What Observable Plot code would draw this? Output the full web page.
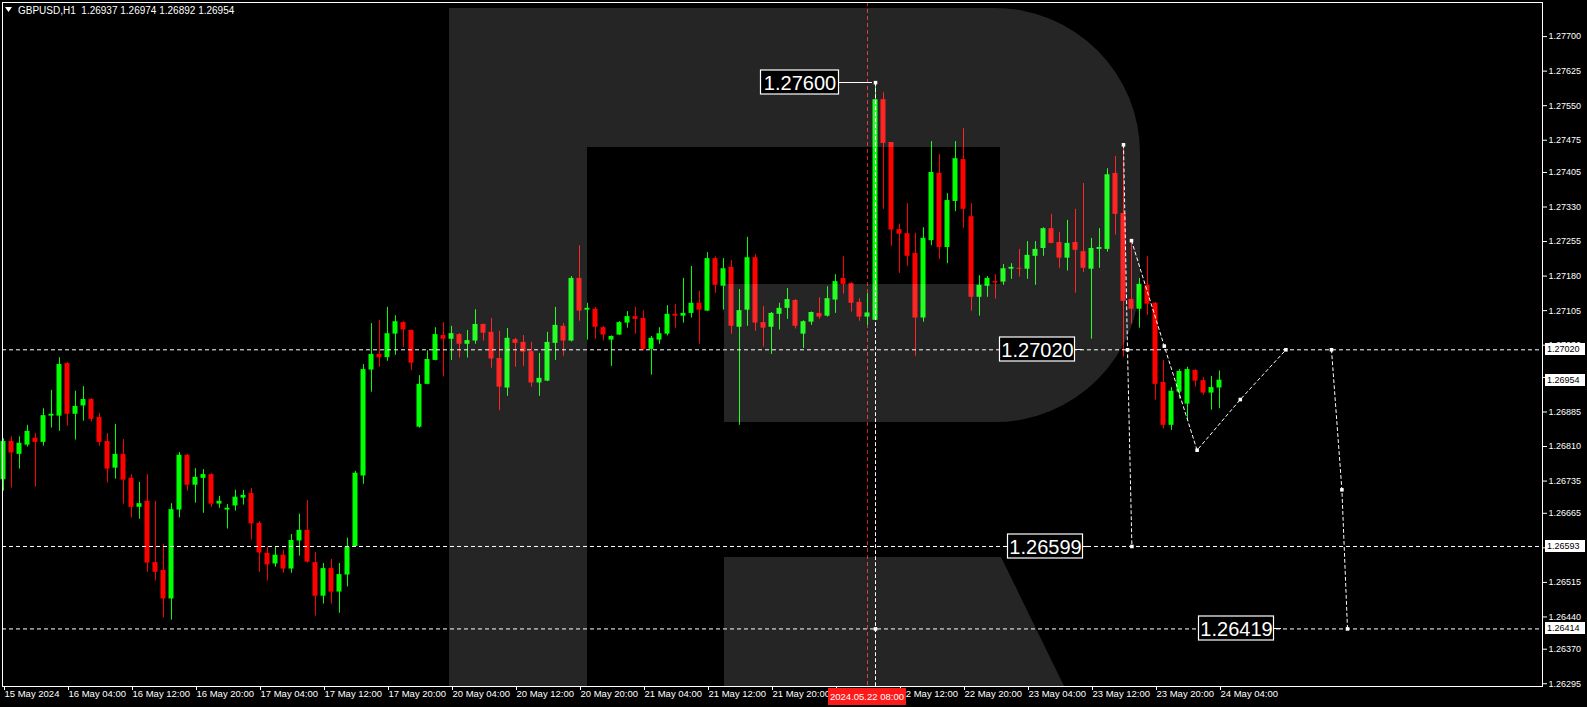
<!DOCTYPE html>
<html><head><meta charset="utf-8">
<script src="https://cdn.jsdelivr.net/npm/d3@7"></script>
<script src="https://cdn.jsdelivr.net/npm/@observablehq/plot@0.6"></script>
<style>
html,body{margin:0;padding:0;background:#000;overflow:hidden}
#chart{position:relative;width:1587px;height:707px}
svg text{white-space:pre}
</style></head><body><div id="chart"></div>
<script>
// ---- Data: hourly GBPUSD candles, bar 0 = 15 May 20:00, last bar = 24 May 04:00
const opens = [1.26738,1.26821,1.26793,1.26813,1.26828,1.26819,1.26876,1.26876,1.26990,1.26880,
1.26898,1.26912,1.26873,1.26821,1.26763,1.26793,1.26741,1.26678,1.26691,1.26558,
1.26541,1.26479,1.26672,1.26791,1.26726,1.26741,1.26749,1.26685,1.26672,1.26681,
1.26698,1.26708,1.26643,1.26578,1.26555,1.26574,1.26544,1.26605,1.26628,1.26558,
1.26485,1.26545,1.26494,1.26531,1.26593,1.26746,1.26976,1.27010,1.27003,1.27054,
1.27079,1.27062,1.26852,1.26945,1.26997,1.27051,1.27043,1.27053,1.27032,1.27039,
1.27075,1.27058,1.27001,1.26937,1.27042,1.27036,1.27016,1.26948,1.26952,1.27034,
1.27071,1.27039,1.27175,1.27106,1.27108,1.27068,1.27041,1.27052,1.27078,1.27092,
1.27088,1.27021,1.27041,1.27054,1.27097,1.27093,1.27099,1.27121,1.27104,1.27218,
1.27158,1.27199,1.27069,1.27106,1.27220,1.27079,1.27069,1.27097,1.27110,1.27127,
1.27054,1.27080,1.27099,1.27093,1.27128,1.27175,1.27164,1.27123,1.27091,1.27084,
1.27563,1.27470,1.27281,1.27272,1.27229,1.27089,1.27257,1.27403,1.27242,1.27342,
1.27433,1.27309,1.27134,1.27158,1.27168,1.27167,1.27195,1.27197,1.27195,1.27223,
1.27240,1.27283,1.27253,1.27219,1.27253,1.27233,1.27195,1.27238,1.27238,1.27403,
1.27316,1.27129,1.27108,1.27160,1.27121,1.26949,1.26856,1.26928,1.26902,1.26975,
1.26953,1.26926,1.26937];
const highs = [1.26827,1.26831,1.26831,1.26856,1.26838,1.26892,1.26932,1.27003,1.26992,1.26930,
1.26940,1.26914,1.26882,1.26838,1.26858,1.26825,1.26749,1.26732,1.26749,1.26691,
1.26598,1.26686,1.26797,1.26793,1.26762,1.26760,1.26751,1.26702,1.26684,1.26715,
1.26715,1.26719,1.26647,1.26592,1.26592,1.26585,1.26619,1.26663,1.26693,1.26580,
1.26556,1.26565,1.26556,1.26611,1.26756,1.26988,1.27077,1.27084,1.27112,1.27094,
1.27081,1.27063,1.26964,1.27018,1.27068,1.27079,1.27071,1.27055,1.27062,1.27107,
1.27076,1.27088,1.27060,1.27066,1.27045,1.27051,1.27036,1.27012,1.27058,1.27112,
1.27077,1.27179,1.27246,1.27121,1.27112,1.27071,1.27050,1.27081,1.27103,1.27112,
1.27105,1.27049,1.27068,1.27116,1.27118,1.27175,1.27201,1.27147,1.27231,1.27222,
1.27218,1.27214,1.27151,1.27264,1.27227,1.27114,1.27101,1.27121,1.27153,1.27129,
1.27083,1.27102,1.27133,1.27157,1.27183,1.27222,1.27166,1.27131,1.27142,1.27600,
1.27578,1.27470,1.27293,1.27337,1.27273,1.27285,1.27472,1.27444,1.27359,1.27472,
1.27500,1.27337,1.27181,1.27179,1.27183,1.27205,1.27207,1.27238,1.27255,1.27255,
1.27285,1.27314,1.27275,1.27301,1.27325,1.27381,1.27262,1.27283,1.27413,1.27440,
1.27465,1.27257,1.27175,1.27222,1.27123,1.26997,1.26938,1.26977,1.26982,1.26977,
1.26960,1.26962,1.26974];
const lows = [1.26713,1.26720,1.26761,1.26809,1.26722,1.26811,1.26850,1.26843,1.26854,1.26824,
1.26865,1.26863,1.26811,1.26731,1.26739,1.26685,1.26655,1.26652,1.26537,1.26518,
1.26438,1.26433,1.26655,1.26713,1.26687,1.26665,1.26678,1.26676,1.26631,1.26670,
1.26683,1.26607,1.26537,1.26518,1.26548,1.26535,1.26535,1.26572,1.26557,1.26442,
1.26468,1.26468,1.26448,1.26505,1.26592,1.26728,1.26928,1.26982,1.26995,1.27008,
1.27025,1.26975,1.26850,1.26944,1.26996,1.26961,1.26997,1.27002,1.27002,1.27032,
1.27039,1.26980,1.26888,1.26919,1.26982,1.26984,1.26939,1.26919,1.26951,1.26997,
1.27006,1.27037,1.27082,1.27041,1.27043,1.27039,1.26984,1.27051,1.27067,1.27054,
1.27017,1.26965,1.27032,1.27050,1.27067,1.27078,1.27089,1.27032,1.27103,1.27143,
1.27106,1.27054,1.26856,1.27071,1.27060,1.27026,1.27010,1.27063,1.27086,1.27065,
1.27023,1.27073,1.27086,1.27091,1.27099,1.27141,1.27102,1.27082,1.27073,1.27084,
1.27325,1.27245,1.27186,1.27201,1.27006,1.27080,1.27246,1.27216,1.27207,1.27320,
1.27284,1.27104,1.27093,1.27134,1.27130,1.27160,1.27173,1.27178,1.27173,1.27160,
1.27223,1.27250,1.27197,1.27191,1.27143,1.27188,1.27043,1.27197,1.27232,1.27269,
1.27004,1.27076,1.27067,1.27095,1.26911,1.26848,1.26845,1.26913,1.26865,1.26939,
1.26921,1.26889,1.26892];
const closes = [1.26821,1.26796,1.26817,1.26843,1.26819,1.26877,1.26880,1.26988,1.26880,1.26897,
1.26912,1.26869,1.26819,1.26761,1.26793,1.26737,1.26678,1.26686,1.26557,1.26537,
1.26479,1.26673,1.26791,1.26726,1.26743,1.26749,1.26685,1.26691,1.26676,1.26700,
1.26704,1.26642,1.26579,1.26553,1.26574,1.26544,1.26606,1.26628,1.26559,1.26485,
1.26545,1.26494,1.26532,1.26591,1.26752,1.26977,1.27010,1.27003,1.27055,1.27081,
1.27063,1.26991,1.26945,1.26999,1.27053,1.27043,1.27055,1.27032,1.27040,1.27075,
1.27056,1.27000,1.26939,1.27045,1.27034,1.27015,1.26948,1.26958,1.27036,1.27073,
1.27039,1.27175,1.27104,1.27110,1.27069,1.27052,1.27049,1.27079,1.27092,1.27086,
1.27021,1.27045,1.27055,1.27097,1.27093,1.27099,1.27121,1.27106,1.27218,1.27160,
1.27196,1.27071,1.27105,1.27220,1.27078,1.27067,1.27099,1.27110,1.27129,1.27071,
1.27081,1.27101,1.27091,1.27131,1.27168,1.27162,1.27121,1.27091,1.27100,1.27563,
1.27468,1.27280,1.27271,1.27223,1.27089,1.27262,1.27405,1.27242,1.27344,1.27435,
1.27325,1.27134,1.27160,1.27175,1.27165,1.27196,1.27199,1.27195,1.27225,1.27238,
1.27283,1.27251,1.27219,1.27251,1.27236,1.27197,1.27240,1.27242,1.27400,1.27314,
1.27125,1.27108,1.27162,1.27119,1.26945,1.26856,1.26930,1.26973,1.26977,1.26952,
1.26926,1.26938,1.26954];

// time axis
const xTickBars = [0,8,16,24,32,40,48,56,64,72,80,88,96,104,112,120,128,136,144,152];
const xTickLabels = ["15 May 2024","16 May 04:00","16 May 12:00","16 May 20:00","17 May 04:00","17 May 12:00",
  "17 May 20:00","20 May 04:00","20 May 12:00","20 May 20:00","21 May 04:00","21 May 12:00","21 May 20:00",
  "22 May 04:00","22 May 12:00","22 May 20:00","23 May 04:00","23 May 12:00","23 May 20:00","24 May 04:00"];
const cursorBar = 108;
const cursorLabel = "2024.05.22 08:00";

// price axis
const yTicks = [1.27700,1.27625,1.27550,1.27475,1.27405,1.27330,1.27255,1.27180,1.27105,1.27030,
  1.26960,1.26885,1.26810,1.26735,1.26665,1.26590,1.26515,1.26440,1.26370,1.26295];
const priceMarks = [1.27020,1.26954,1.26593,1.26414];

// horizontal levels
const hLevels = [1.27020,1.26593,1.26414];

// forecast paths (bar index / price)
const pathBars = [[109,109],[140,140.5,141.05],[141,145.1,149.2,154.6,160.3],[166,167.3,168]];
const pathPrices = [[1.27600,1.26289],[1.27465,1.27020,1.26593],[1.27257,1.27028,1.26802,1.26912,1.27020],[1.27020,1.26716,1.26414]];
const markerBars = [109,109,140,140.5,141.05,141,145.1,149.2,154.6,160.3,166,167.3,168];
const markerPrices = [1.27600,1.26414,1.27465,1.27020,1.26593,1.27257,1.27028,1.26802,1.26912,1.27020,1.27020,1.26716,1.26414];

// price notes
const noteTexts = ["1.27600","1.27020","1.26599","1.26419"];
const noteBars = [104.5,134.05,135.05,158.9];
const notePrices = [1.27600,1.27020,1.26593,1.26414];
const noteLinkBars = [108.6,134.9,135.9,159.8];

const titleText = "GBPUSD,H1  1.26937 1.26974 1.26892 1.26954";

// ---- build
const bars = opens.map((o,i)=>({i, open:o, high:highs[i], low:lows[i], close:closes[i]}));
const GREEN = "#00ff00", RED = "#ff0000";
const col = d => d.close >= d.open ? GREEN : RED;
const paths = pathBars.flatMap((bs,k)=>bs.map((b,j)=>({k, bar:b, price:pathPrices[k][j]})));
const markers = markerBars.map((b,j)=>({bar:b, price:markerPrices[j]}));
const FONT = "'Liberation Sans', Arial, sans-serif";

function logoMark() {
  const g = d3.create("svg:g");
  g.append("path")
    .attr("d","M449,8H587V686H449Z M587,8H995A145,145 0 0 1 1140,153V277A145,145 0 0 1 995,422H724V284H1000V147H587Z M724,557H1001L1064,686H724Z")
    .attr("fill","#fff").attr("fill-opacity",0.145);
  return g.node();
}
function notesMark(index, scales) {
  const x = scales.x, y = scales.y;
  const g = d3.create("svg:g").attr("text-anchor","middle");
  noteTexts.forEach((t,k)=>{
    const xr = Math.round(x(noteBars[k])), yc = Math.round(y(notePrices[k]));
    const xl = Math.round(x(noteLinkBars[k]));
    const w = k === 0 ? 78 : 75;
    g.append("line").attr("x1",xr).attr("x2",xl).attr("y1",yc+0.5).attr("y2",yc+0.5).attr("stroke","#fff");
    g.append("rect").attr("x",xr-w-0.5).attr("y",yc-12).attr("width",w).attr("height",24)
      .attr("fill","#000").attr("stroke","#fff").attr("stroke-width",1.2);
    g.append("text").attr("x",xr-w/2).attr("y",yc+1).attr("text-anchor","middle").attr("dy","0.36em")
      .attr("font-family",FONT).attr("font-size",20).attr("fill","#fff").text(t);
  });
  return g.node();
}
function sideMarks(index, scales) {
  const x = scales.x, y = scales.y;
  const g = d3.create("svg:g").attr("text-anchor","start");
  priceMarks.forEach(p=>{
    const yc = Math.round(y(p));
    g.append("rect").attr("x",1545).attr("y",yc-6).attr("width",40).attr("height",12).attr("fill","#fff");
    g.append("text").attr("x",1547).attr("y",yc).attr("dy","0.36em").attr("text-anchor","start")
      .attr("font-family",FONT).attr("font-size",9).attr("fill","#000").text(d3.format(".5f")(p));
  });
  const xc = x(cursorBar);
  g.append("rect").attr("x",Math.round(xc-39)).attr("y",688).attr("width",78).attr("height",17).attr("fill","#ff1a1a");
  g.append("text").attr("x",xc).attr("y",697).attr("dy","0.36em").attr("text-anchor","middle")
    .attr("font-family",FONT).attr("font-size",9.5).attr("fill","#fff").text(cursorLabel);
  // title
  g.append("path").attr("d","M5,7H12L8.5,12Z").attr("fill","#fff");
  g.append("text").attr("x",18).attr("y",10).attr("dy","0.36em").attr("text-anchor","start")
    .attr("font-family",FONT).attr("font-size",10).attr("fill","#fff").text(titleText);
  return g.node();
}

const chart = Plot.plot({
  width: 1587, height: 707,
  marginLeft: 2, marginRight: 45, marginTop: 2, marginBottom: 21,
  x: {domain: [-0.125, 192.375], axis: null},
  y: {domain: [1.26289, 1.27774], axis: null},
  style: {background: "#000", color: "#fff", fontFamily: FONT, fontSize: "9.5px"},
  marks: [
    Plot.ruleX([cursorBar], {stroke: "#d02020", strokeDasharray: "4,3"}),
    Plot.ruleX(bars, {x: "i", y1: "low", y2: "high", stroke: col}),
    Plot.rect(bars, {x1: d => d.i - 0.3125, x2: d => d.i + 0.3125, y1: "open", y2: "close", fill: col}),
    logoMark,
    Plot.ruleY(hLevels, {stroke: "#fff", strokeDasharray: "4,3"}),
    Plot.line(paths, {x: "bar", y: "price", z: "k", stroke: "#fff", strokeDasharray: "3,3", strokeWidth: 1}),
    Plot.dot(markers, {x: "bar", y: "price", r: 2, fill: "#fff", symbol: "square"}),
    notesMark,
    Plot.axisX({ticks: xTickBars, tickFormat: d => xTickLabels[xTickBars.indexOf(d)], anchor: "bottom",
      tickSize: 4, tickPadding: 0, textAnchor: "start", dx: 1, fill: "#fff", stroke: "#fff", fontSize: 9.5}),
    Plot.axisY({ticks: yTicks, tickFormat: d3.format(".5f"), anchor: "right", tickSize: 4, tickPadding: 2,
      fill: "#fff", stroke: "#fff", fontSize: 9}),
    sideMarks,
    Plot.frame({stroke: "#fff"})
  ]
});
document.getElementById("chart").append(chart);
</script></body></html>
